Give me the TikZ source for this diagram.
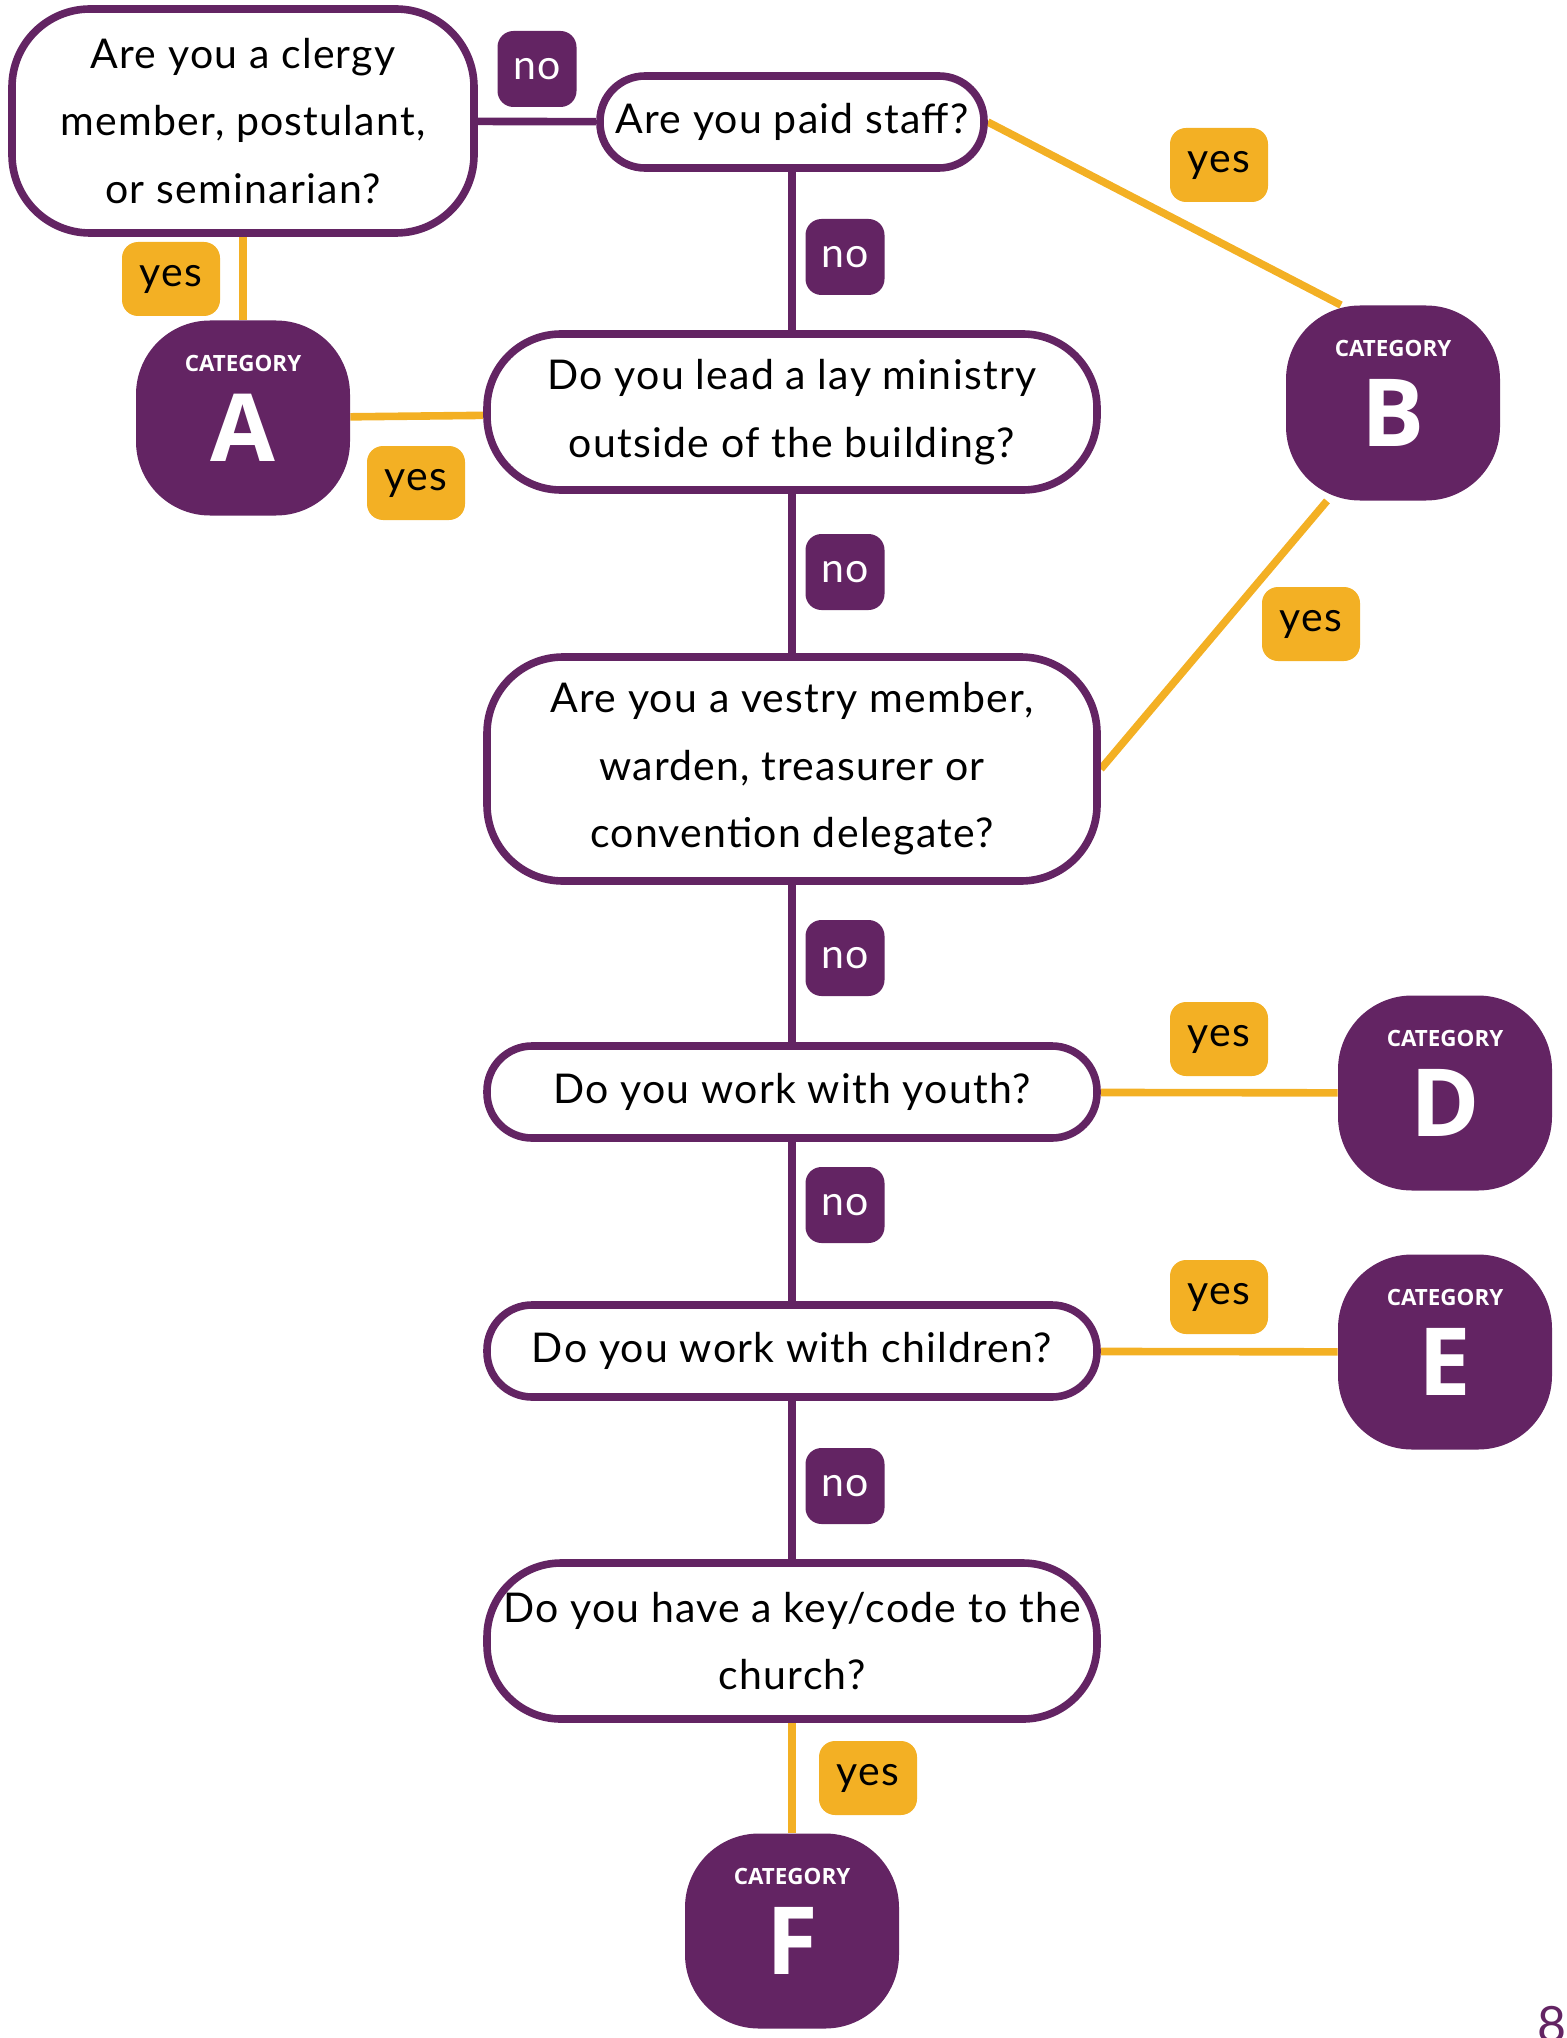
\documentclass[tikz,border=0pt]{standalone}
\usepackage{fontspec}
\setmainfont{Lato}[LetterSpace=3]
\newfontfamily\catfont{Open Sans}
\usepackage{tikz}
\usetikzlibrary{positioning, backgrounds}
\definecolor{purp}{HTML}{632463}
\definecolor{gold}{HTML}{F3B024}
\newcommand\catname[1]{{\fontsize{11.2}{12}\selectfont CATEGORY}\\#1}

\begin{document}
\begin{tikzpicture}[x=0.5pt,y=-0.5pt,
  question/.style={rectangle, draw=purp, line width=3.8pt, fill=white,
  align=center, inner sep=0pt, minimum width=305pt,
  font=\fontsize{20.5}{33.8}\selectfont},
  cat/.style={rectangle, fill=purp, text=white, rounded corners=37pt,
  minimum width=107pt, minimum height=97.5pt, inner sep=0pt, align=center,
  text depth=10pt, font=\catfont\bfseries\fontsize{47}{45}\selectfont},
  nolab/.style={rectangle, fill=purp, text=white, rounded corners=8pt,
  minimum width=39.5pt, minimum height=38pt, inner sep=0pt,
  font=\fontsize{20.5}{24}\selectfont},
  yeslab/.style={nolab, fill=gold, text=black, minimum width=49pt, minimum height=37pt},
  noline/.style={color=purp, line width=3.8pt},
  yesline/.style={color=gold, line width=3.8pt}]
  \useasboundingbox (0,0) rectangle (1567,2038);

  % questions
  \node[question, minimum width=231pt, minimum height=112pt, rounded corners=39pt] (clergy) at (243,121) {Are you a clergy\\member, postulant,\\or seminarian?};
  \node[question, minimum width=192pt, minimum height=46pt, rounded corners=22.5pt] (paid) at (792,122) {Are you paid staff?};
  \node[question, minimum height=78pt, rounded corners=37pt] (lay) at (792,412) {Do you lead a lay ministry\\outside of the building?};
  \node[question, minimum height=112pt, rounded corners=38pt] (vestry) at (792,769) {Are you a vestry member,\\warden, treasurer or\\convention delegate?};
  \node[question, minimum height=46pt, rounded corners=22.5pt] (youth) at (792,1092) {Do you work with youth?};
  \node[question, minimum height=46pt, rounded corners=22.5pt] (children) at (792,1351) {Do you work with children?};
  \node[question, minimum height=78pt, rounded corners=37pt] (key) at (792,1641) {Do you have a key/code to the\\church?};

  % categories
  \node[cat] (catA) at (243,418) {\catname{A}};
  \node[cat] (catB) at (1393,403) {\catname{B}};
  \node[cat] (catD) at (1445,1093) {\catname{D}};
  \node[cat] (catE) at (1445,1352) {\catname{E}};
  \node[cat] (catF) at (792,1931) {\catname{F}};

  % answers
  \node[nolab] (no1) at (537,69) {no};
  \node[nolab] (no2) at (845,257) {no};
  \node[nolab] (no3) at (845,572) {no};
  \node[nolab] (no4) at (845,958) {no};
  \node[nolab] (no5) at (845,1205) {no};
  \node[nolab] (no6) at (845,1486) {no};
  \node[yeslab] (yes1) at (171,279) {yes};
  \node[yeslab] (yes2) at (416,483) {yes};
  \node[yeslab] (yes3) at (1219,165) {yes};
  \node[yeslab] (yes4) at (1311,624) {yes};
  \node[yeslab] (yes5) at (1219,1039) {yes};
  \node[yeslab] (yes6) at (1219,1297) {yes};
  \node[yeslab] (yes7) at (868,1778) {yes};

  \node[text=purp, anchor=north, inner sep=0pt, font=\fontsize{25}{25}\selectfont] (page) at (1552,2006) {8};

  \begin{scope}[on background layer]
  \path[noline]
     (clergy) edge (paid)
     (paid) edge (lay)
     (lay) edge (vestry)
     (vestry) edge (youth)
     (youth) edge (children)
     (children) edge (key);
  \path[yesline]
     (clergy) edge (catA)
     (catA) edge (lay)
     (paid.east) edge (catB.118)
     (vestry.east) edge (catB.236)
     (youth) edge (catD)
     (children) edge (catE)
     (key) edge (catF);
  \end{scope}
\end{tikzpicture}
\end{document}
